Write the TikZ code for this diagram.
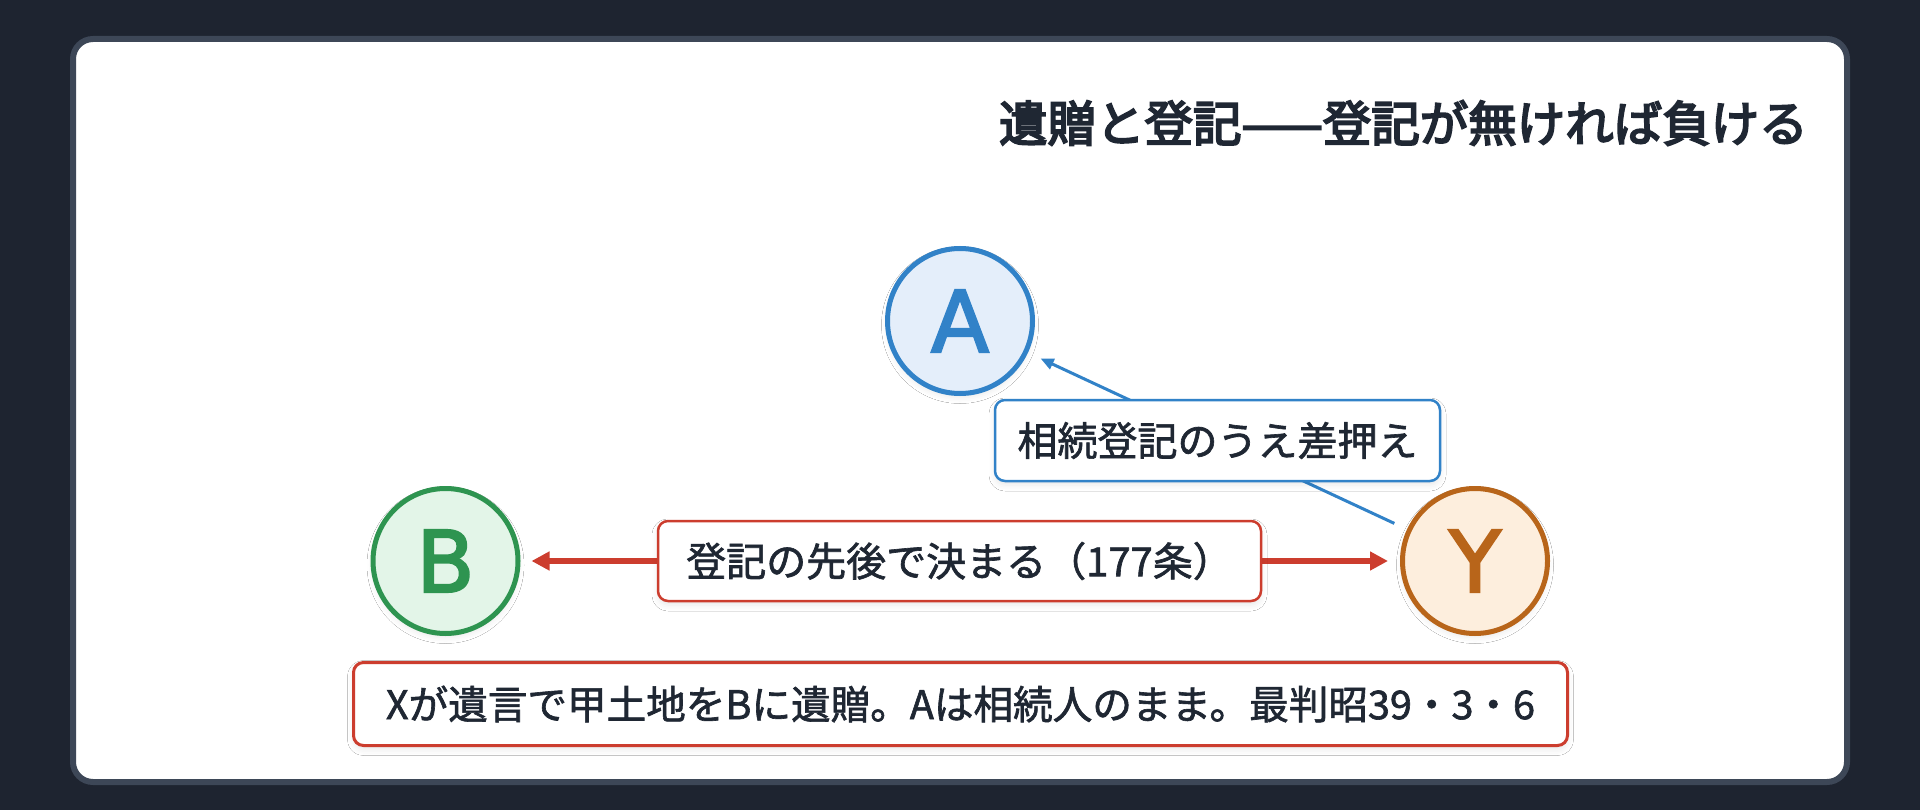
\documentclass[tikz,border=0pt]{standalone}
\usepackage{fontspec}
\setmainfont{Noto Sans CJK JP}
\newfontfamily\jplabel[FakeBold=1.6]{Noto Sans CJK JP}
\newfontfamily\jptitle[FakeBold=4]{Noto Sans CJK JP}
\newfontfamily\letterfont[FakeBold=2.6]{DejaVu Sans}
\usetikzlibrary{arrows.meta,shadows.blur}
\definecolor{bgdark}{HTML}{1E2430}
\definecolor{cardline}{HTML}{3D4757}
\definecolor{ink}{HTML}{1F2733}
\definecolor{blueA}{HTML}{3182C8}
\definecolor{blueFill}{HTML}{E4EEFA}
\definecolor{greenB}{HTML}{2E9450}
\definecolor{greenFill}{HTML}{E3F5E8}
\definecolor{orangeY}{HTML}{B8651A}
\definecolor{orangeFill}{HTML}{FDEEDD}
\definecolor{redL}{HTML}{CC3D2E}
\tikzset{
  softshadow/.style={blur shadow={shadow xshift=0pt, shadow yshift=-4pt, shadow blur radius=6pt, shadow opacity=9}},
  party/.style={circle, minimum size=145pt, inner sep=0pt, line width=5pt, softshadow,
    font=\letterfont\fontsize{85}{90}\selectfont},
  labelbox/.style={rectangle, rounded corners=10pt, fill=white, inner sep=0pt, text=ink,
    softshadow, font=\jplabel\fontsize{40}{48}\selectfont},
  titletext/.style={inner sep=0pt, text=ink, font=\jptitle\fontsize{48.5}{56}\selectfont},
  bluearrow/.style={draw=blueA, line width=3pt, -{Triangle[length=13pt,width=11pt]}},
  redarrow/.style={draw=redL, line width=6pt, {Triangle[length=18pt,width=18pt]}-{Triangle[length=18pt,width=18pt]}}
}
\begin{document}
\begin{tikzpicture}[x=1pt,y=-1pt]
\useasboundingbox (0,0) rectangle (1920,810);
\fill[bgdark] (0,0) rectangle (1920,810);
\draw[cardline, line width=6pt, fill=white, rounded corners=20pt] (73,39) rectangle (1847,782);

\node[titletext, anchor=east] (title) at (1808,123) {遺贈と登記——登記が無ければ負ける};

\node[party, draw=blueA, fill=blueFill, text=blueA] (A) at (960,321) {A};
\node[party, draw=greenB, fill=greenFill, text=greenB] (B) at (445.5,561) {B};
\node[party, draw=orangeY, fill=orangeFill, text=orangeY] (Y) at (1475,561) {Y};

\draw[bluearrow, shorten <=14pt, shorten >=14pt] (Y) -- (A);
\draw[redarrow, shorten <=11pt, shorten >=12pt] (B) -- (Y);

\node[labelbox, draw=blueA, line width=2.5pt, minimum width=445pt, minimum height=81pt] (lblA) at (1217.5,440.5) {相続登記のうえ差押え};
\node[labelbox, draw=redL, line width=2.5pt, minimum width=603pt, minimum height=80pt] (lblR) at (959.5,561) {登記の先後で決まる（177条）};
\node[labelbox, draw=redL, line width=3pt, minimum width=1214pt, minimum height=83pt, font=\jplabel\fontsize{39.6}{48}\selectfont] (note) at (960.5,704) {Xが遺言で甲土地をBに遺贈。Aは相続人のまま。最判昭39・3・6};
\end{tikzpicture}
\end{document}
